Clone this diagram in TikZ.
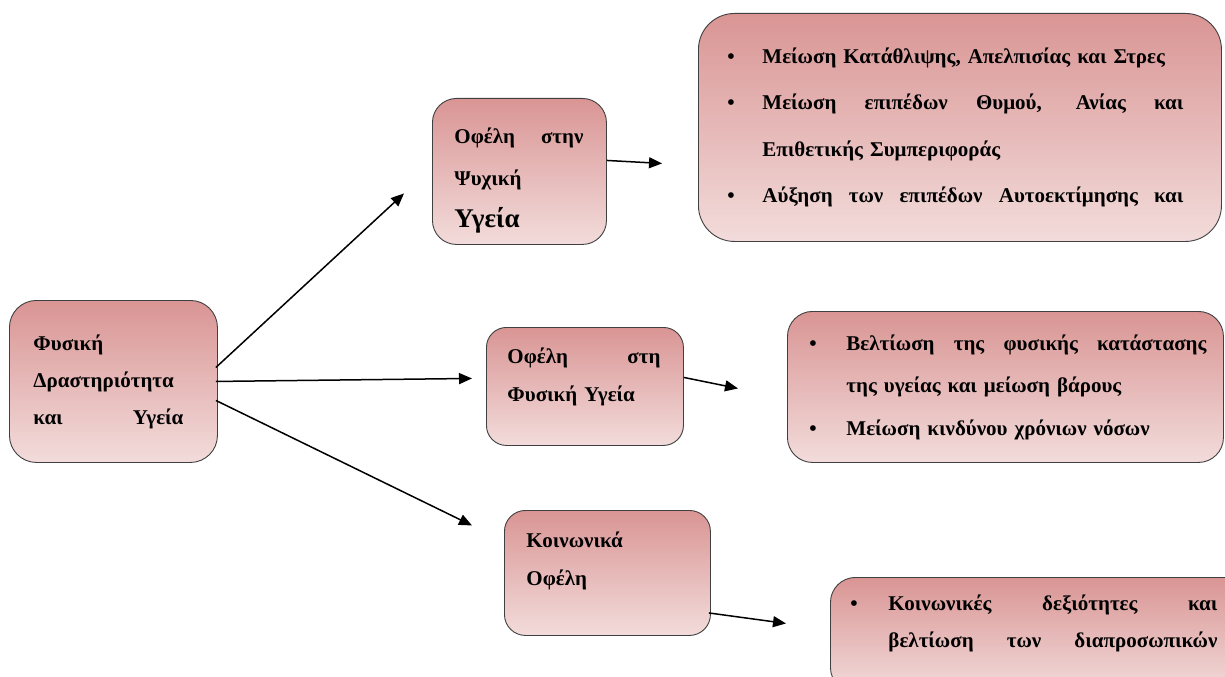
\documentclass[tikz,border=0pt]{standalone}
\usepackage{fontspec}
\setmainfont{Liberation Serif}
\usepackage{xcolor}
\usepackage{tikz}
\usetikzlibrary{positioning,calc,arrows.meta}
\definecolor{rosetop}{RGB}{217,149,148}
\definecolor{rosebot}{RGB}{242,220,219}
\newcommand{\jline}[2]{\makebox[#1][s]{\spaceskip=\fontdimen2\font plus 1fil\relax#2}}
\newcommand{\bitem}[1]{\makebox[#1][l]{\textbullet}}
\newcommand{\lift}[1]{\rule[-#1]{0pt}{#1}}

\begin{document}
\begin{tikzpicture}[x=1bp,y=-1bp]
	\tikzset{
		rbox/.style={
			draw=black!75,
			line width=0.9bp,
			top color=rosetop,
			bottom color=rosebot,
			anchor=north west,
			align=left,
			inner ysep=0pt
		},
		fsize/.style={font=\bfseries\fontsize{21bp}{#1}\selectfont},
		arr/.style={-{Triangle[length=13bp,width=11bp]},line width=1.5bp}
	}
	\useasboundingbox (0,0) rectangle (1225,677);
	\clip (0,0) rectangle (1225,677);

	\node[rbox,fsize=37bp,rounded corners=27bp,minimum height=162bp,inner xsep=24bp,text width=160bp] (fd) at (9,300)
		{Φυσική\\Δραστηριότητα\\\jline{150bp}{και Υγεία}};
	\node[rbox,fsize=42bp,rounded corners=24bp,minimum height=146bp,inner xsep=22bp,text width=130bp] (psy) at (432,98)
		{\rule{0pt}{34bp}\jline{129bp}{Οφέλη στην}\\Ψυχική\\{\fontsize{27bp}{42bp}\selectfont Υγεία}};
	\node[rbox,fsize=46.5bp,rounded corners=36bp,minimum height=228bp,inner xsep=29bp,text width=465bp] (psyL) at (698,13)
		{\bitem{35bp}Μείωση Κατάθλιψης, Απελπισίας και Στρες\\
		\bitem{35bp}\jline{421bp}{Μείωση επιπέδων Θυμού, Ανίας και}\\
		\hspace*{35bp}Επιθετικής Συμπεριφοράς\\
		\bitem{35bp}\jline{421bp}{Αύξηση των επιπέδων Αυτοεκτίμησης και}};
	\node[rbox,fsize=38bp,rounded corners=20bp,minimum height=118bp,inner xsep=21bp,text width=155bp] (phy) at (486,327)
		{\jline{153bp}{Οφέλη στη}\\\lift{23bp}Φυσική Υγεία};
	\node[rbox,fsize=42.5bp,rounded corners=25bp,minimum height=151bp,inner xsep=22bp,text width=392bp] (phyL) at (787,311)
		{\bitem{37bp}\jline{360bp}{Βελτίωση της φυσικής κατάστασης}\\
		\hspace*{37bp}της υγείας και μείωση βάρους\\
		\bitem{37bp}Μείωση κινδύνου χρόνιων νόσων};
	\node[rbox,fsize=38bp,rounded corners=21bp,minimum height=125bp,inner xsep=22bp,text width=162bp] (soc) at (504,510)
		{Κοινωνικά\\\lift{29bp}Οφέλη};
	\node[rbox,fsize=37bp,rounded corners=25bp,minimum height=115bp,inner xsep=20bp,text width=380bp] (socL) at (830,577)
		{\bitem{38bp}\jline{329bp}{Κοινωνικές δεξιότητες και}\\
		\lift{27bp}\hspace*{38bp}\jline{329bp}{βελτίωση των διαπροσωπικών}};

	\draw[arr] ($(fd.east)+(-2,-14)$) -- ($(psy.west)+(-28,22)$);
	\draw[arr] ($(fd.east)+(-2,0)$) -- ($(phy.west)+(-14,-8)$);
	\draw[arr] ($(fd.east)+(-2,19)$) -- ($(soc.west)+(-32,-47.5)$);
	\draw[arr] ($(psy.east)+(0,-11)$) -- ($(psyL.west)+(-36,36)$);
	\draw[arr] ($(phy.east)+(0,-9)$) -- ($(phyL.west)+(-49,1.5)$);
	\draw[arr] ($(soc.east)+(-2,40)$) -- ($(socL.west)+(-44,-11.5)$);
\end{tikzpicture}
\end{document}
